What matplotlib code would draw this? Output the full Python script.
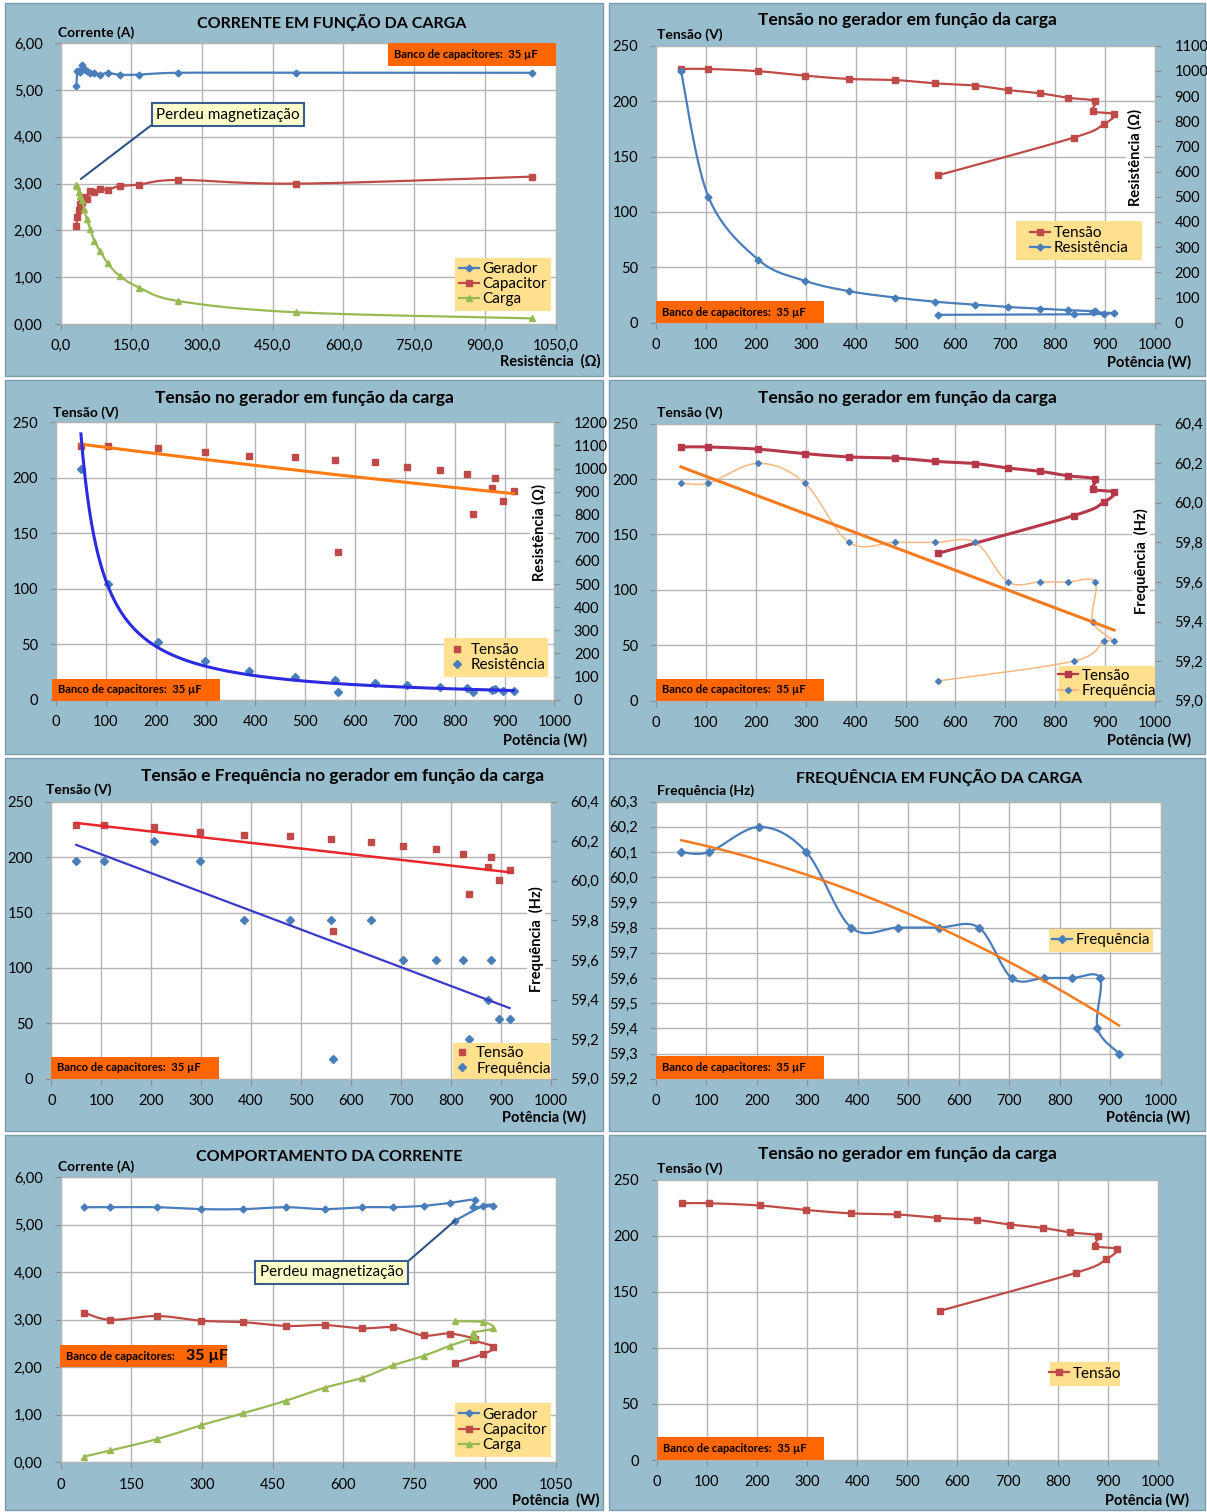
import numpy as np
import matplotlib
matplotlib.use('Agg')
import matplotlib.pyplot as plt
from matplotlib.lines import Line2D
from matplotlib.patches import Rectangle
from matplotlib.ticker import FuncFormatter

plt.rcParams['font.family'] = ['Lato', 'DejaVu Sans']

#%%
# dados lidos dos gráficos (ordem das medições)
potencia = [50, 105, 205, 298, 387, 479, 560, 640, 705, 770, 825, 880, 875, 918, 897, 837, 565]
tensao = [229, 229, 227, 223, 220, 219, 216, 214, 210, 207, 203, 200, 191, 188, 179, 167, 133]
resistencia = [1000, 500, 250, 166.7, 125, 100, 83.3, 71.4, 62.5, 55.6, 50, 45.5, 41.7, 38.5, 35.7, 33.3, 31.3]
frequencia = [60.1, 60.1, 60.2, 60.1, 59.8, 59.8, 59.8, 59.8, 59.6, 59.6, 59.6, 59.6, 59.4, 59.3, 59.3, 59.2, 59.1]
# correntes (só as 16 primeiras medições)
i_gerador = [5.37, 5.37, 5.37, 5.33, 5.33, 5.37, 5.33, 5.37, 5.37, 5.40, 5.46, 5.53, 5.38, 5.40, 5.40, 5.09]
i_capacitor = [3.15, 3.00, 3.08, 2.98, 2.95, 2.87, 2.89, 2.82, 2.84, 2.67, 2.71, 2.60, 2.57, 2.43, 2.28, 2.10]
i_carga = [0.12, 0.25, 0.49, 0.78, 1.03, 1.30, 1.57, 1.78, 2.04, 2.24, 2.45, 2.64, 2.73, 2.82, 2.95, 2.97]
n_freq6 = 14  # o gráfico de frequência só mostra as 14 primeiras

P = np.array(potencia, dtype=float)
V = np.array(tensao, dtype=float)
R = np.array(resistencia, dtype=float)
F = np.array(frequencia, dtype=float)

#%%
# cores
FUNDO = '#98BDCD'
GRADE = '#B4B4B4'
AZUL = '#4A7EBB'
VERMELHO = '#BE4B48'
VERDE = '#98B954'
AMARELO = '#FFE08F'
LARANJA = '#F47B20'

W, H = 1207, 1512
fig = plt.figure(figsize=(W / 100, H / 100), dpi=100)


def caixa(x0, y0, x1, y1):
    return [x0 / W, 1 - y1 / H, (x1 - x0) / W, (y1 - y0) / H]


def retangulo(x0, y0, x1, y1, cor, z, borda='none'):
    fig.patches.append(Rectangle((x0 / W, 1 - y1 / H), (x1 - x0) / W, (y1 - y0) / H,
                                 transform=fig.transFigure, fc=cor, ec=borda, lw=1, zorder=z))


def virgula(casas):
    return FuncFormatter(lambda v, pos: ('%.*f' % (casas, v)).replace('.', ','))


def eixo(area, xmax, dx, ylim, dy, cx=0, cy=0):
    ax = fig.add_axes(caixa(*area))
    ax.set_xlim(0, xmax)
    ax.set_ylim(*ylim)
    ax.set_xticks(np.arange(0, xmax + dx / 2, dx))
    ax.set_yticks(np.round(np.arange(ylim[0], ylim[1] + dy / 2, dy), 3))
    ax.xaxis.set_major_formatter(virgula(cx))
    ax.yaxis.set_major_formatter(virgula(cy))
    ax.grid(True, color=GRADE, lw=1)
    ax.set_axisbelow(True)
    for s in ax.spines.values():
        s.set_color(GRADE)
    ax.tick_params(length=4, color='#8C8C8C', labelsize=10.5)
    ax.tick_params(axis='x', pad=7)
    ax.tick_params(axis='y', pad=9)
    return ax


def eixo2(ax, ylim, dy, cy=0):
    ax2 = ax.twinx()
    ax2.set_ylim(*ylim)
    ax2.set_yticks(np.round(np.arange(ylim[0], ylim[1] + dy / 2, dy), 3))
    ax2.yaxis.set_major_formatter(virgula(cy))
    for s in ax2.spines.values():
        s.set_visible(False)
    ax2.tick_params(axis='y', length=4, color='#8C8C8C', labelsize=10.5, pad=10)
    return ax2


def suave(ax, x, y, n=24):
    # linha suavizada como no Excel (Bezier com vizinhos), feita em pixels
    p = ax.transData.transform(np.column_stack([x, y]))
    p = np.vstack([p[0], p, p[-1]])
    t = np.linspace(0, 1, n)[:, None]
    seg = []
    for i in range(1, len(p) - 2):
        p0, p1, p2, p3 = p[i - 1], p[i], p[i + 1], p[i + 2]
        c1 = p1 + (p2 - p0) / 6
        c2 = p2 - (p3 - p1) / 6
        seg.append((1 - t) ** 3 * p1 + 3 * (1 - t) ** 2 * t * c1 + 3 * (1 - t) * t ** 2 * c2 + t ** 3 * p2)
    q = ax.transData.inverted().transform(np.vstack(seg))
    return q[:, 0], q[:, 1]


def serie(ax, x, y, cor, mk, ms, lw=1.6, cor_mk=None):
    xs, ys = suave(ax, x, y)
    ax.plot(xs, ys, color=cor, lw=lw)
    ax.plot(x, y, ls='none', marker=mk, ms=ms, color=cor_mk or cor)


def textos(titulo, tpos, ylab, ypos, xlab, xpos, ft=12.5):
    fig.text(tpos[0] / W, 1 - tpos[1] / H, titulo, ha='center', va='center', fontsize=ft, fontweight='bold')
    fig.text(ypos[0] / W, 1 - ypos[1] / H, ylab, ha='left', va='center', fontsize=10, fontweight='bold')
    fig.text(xpos[0] / W, 1 - xpos[1] / H, xlab, ha='right', va='center', fontsize=10.5, fontweight='bold')


def rotulo_dir(x, y, txt):
    fig.text(x / W, 1 - y / H, txt, rotation=90, ha='center', va='center', fontsize=10.5, fontweight='bold',
             bbox=dict(fc='white', ec='none', pad=1), zorder=3)


def banco(x0, y0, x1, y1, grande=False):
    retangulo(x0, y0, x1, y1, '#FF6600', 2)
    yc = 1 - (y0 + y1) / 2 / H
    if grande:
        fig.text((x0 + 6) / W, yc, 'Banco de capacitores:', fontsize=8, fontweight='bold', va='center', zorder=3)
        fig.text((x0 + 126) / W, yc, '35 µF', fontsize=11.5, fontweight='bold', va='center', zorder=3)
    else:
        fig.text((x0 + 6) / W, yc, 'Banco de capacitores:  35 µF', fontsize=8, fontweight='bold', va='center', zorder=3)


def legenda(x0, y0, x1, y1, itens):
    retangulo(x0, y0, x1, y1, AMARELO, 2)
    fig.legend([h for h, _ in itens], [l for _, l in itens], loc='center',
               bbox_to_anchor=((x0 + x1) / 2 / W, 1 - (y0 + y1) / 2 / H), frameon=False, fontsize=11,
               handlelength=1.3, handletextpad=0.25, labelspacing=0.08, borderpad=0, borderaxespad=0)


def h(cor, mk, ms, ls='-', cor_mk=None):
    return Line2D([], [], color=cor, marker=mk, ms=ms, ls=ls, lw=1.6, mfc=cor_mk or cor, mec=cor_mk or cor)


def callout(ax, xy, centro, rel):
    ax.annotate('Perdeu magnetização', xy=xy, xytext=(centro[0], H - centro[1]), textcoords='figure pixels',
                ha='center', va='center', fontsize=11, annotation_clip=False,
                bbox=dict(boxstyle='square,pad=0.3', fc='#FFFFCC', ec='#3B5C8C', lw=1.5),
                arrowprops=dict(arrowstyle='-', color='#2E5486', lw=1.5, relpos=rel, shrinkA=0, shrinkB=0))


# fundos dos painéis
for x0, x1 in [(5, 603), (609, 1205)]:
    for y0, y1 in [(3, 376), (380, 754), (758, 1131), (1135, 1510)]:
        retangulo(x0, y0, x1, y1, FUNDO, -5, borda='#7C9CAC')

#%%
# 1 - corrente x resistência
ax = eixo((60.6, 43.3, 555.6, 324), 1050, 150, (0, 6), 1, cx=1, cy=2)
serie(ax, R[:16], i_gerador, AZUL, 'D', 3.5)
serie(ax, R[:16], i_capacitor, VERMELHO, 's', 5)
serie(ax, R[:16], i_carga, VERDE, '^', 5)
callout(ax, (43, 3.1), (228, 114.5), (0, 0))
textos('CORRENTE EM FUNÇÃO DA CARGA', (332, 22), 'Corrente (A)', (58, 33), 'Resistência  (Ω)', (601, 361), ft=11.5)
banco(388.5, 43.3, 555.6, 65.7)
legenda(455, 257.7, 550.5, 310.7, [(h(AZUL, 'D', 3.5), 'Gerador'), (h(VERMELHO, 's', 4.5), 'Capacitor'),
                                    (h(VERDE, '^', 4.5), 'Carga')])

# 2 - tensão e resistência x potência
ax = eixo((656, 45.7, 1155, 322.7), 1000, 100, (0, 250), 50)
ax2 = eixo2(ax, (0, 1100), 100)
serie(ax, P, V, VERMELHO, 's', 5)
serie(ax2, P, R, AZUL, 'D', 3.5)
textos('Tensão no gerador em função da carga', (907, 20), 'Tensão (V)', (657, 35), 'Potência (W)', (1191, 362))
rotulo_dir(1135, 157, 'Resistência (Ω)')
banco(656, 301, 824, 323)
legenda(1016, 221, 1142, 260, [(h(VERMELHO, 's', 4.5), 'Tensão'), (h(AZUL, 'D', 3.5), 'Resistência')])

# 3 - dispersão com linhas de tendência (potência)
ax = eixo((56, 422.3, 554.4, 699.7), 1000, 100, (0, 250), 50)
ax2 = eixo2(ax, (0, 1200), 100)
ax.plot(P, V, ls='none', marker='s', ms=4.5, color=VERMELHO)
ax2.plot(P, R, ls='none', marker='D', ms=4.5, color=AZUL)
xs = np.linspace(P.min(), P.max(), 200)
k, c = np.polyfit(P, np.log(V), 1)
ax.plot(xs, np.exp(c + k * xs), color='#FF7A10', lw=2.2)
b, a = np.polyfit(np.log(P), np.log(R), 1)
ax2.plot(xs, np.exp(a) * xs ** b, color='#2B2BE0', lw=2.2)
textos('Tensão no gerador em função da carga', (304, 398), 'Tensão (V)', (53, 413), 'Potência (W)', (587, 740))
rotulo_dir(539, 533, 'Resistência (Ω)')
banco(52, 679, 220, 700.7)
legenda(444.4, 638, 548, 677, [(h(VERMELHO, 's', 4.5, ls='none'), 'Tensão'), (h(AZUL, 'D', 4.5, ls='none'), 'Resistência')])

# 4 - tensão e frequência x potência
ax = eixo((656, 423.7, 1155, 700.7), 1000, 100, (0, 250), 50)
ax2 = eixo2(ax, (59.0, 60.4), 0.2, cy=1)
serie(ax, P, V, '#B5394A', 's', 5, lw=2.2)
serie(ax2, P, F, '#F5B880', 'D', 3, lw=1.1, cor_mk=AZUL)
k, c = np.polyfit(P, F, 1)
ax2.plot(xs, k * xs + c, color=LARANJA, lw=2.2)
textos('Tensão no gerador em função da carga', (907, 398), 'Tensão (V)', (657, 413), 'Potência (W)', (1191, 740))
rotulo_dir(1141, 561, 'Frequência  (Hz)')
banco(656, 679, 824, 701)
legenda(1058.7, 666, 1155, 700.7, [(h('#B5394A', 's', 4.5), 'Tensão'), (h('#F5B880', 'D', 3, cor_mk=AZUL), 'Frequência')])

# 5 - dispersão tensão e frequência
ax = eixo((51.3, 801.7, 550.5, 1078.7), 1000, 100, (0, 250), 50)
ax2 = eixo2(ax, (59.0, 60.4), 0.2, cy=1)
ax.plot(P, V, ls='none', marker='s', ms=4.5, color=VERMELHO)
ax2.plot(P, F, ls='none', marker='D', ms=4.5, color=AZUL)
k, c = np.polyfit(P, V, 1)
ax.plot(xs, k * xs + c, color='#E8262C', lw=1.8)
k, c = np.polyfit(P, F, 1)
ax2.plot(xs, k * xs + c, color='#3A3AC8', lw=1.6)
textos('Tensão e Frequência no gerador em função da carga', (343, 776.5), 'Tensão (V)', (46, 790), 'Potência (W)', (586, 1117))
rotulo_dir(536, 939, 'Frequência  (Hz)')
banco(51.3, 1057, 219, 1078.7)
legenda(453.3, 1043.3, 549.8, 1078.7, [(h(VERMELHO, 's', 4.5, ls='none'), 'Tensão'), (h(AZUL, 'D', 4.5, ls='none'), 'Frequência')])

# 6 - frequência x potência
ax = eixo((656, 801.7, 1160.5, 1078.7), 1000, 100, (59.2, 60.3), 0.1, cy=1)
serie(ax, P[:n_freq6], F[:n_freq6], AZUL, 'D', 4)
coef = np.polyfit(P[:n_freq6], F[:n_freq6], 2)
xs6 = np.linspace(P[:n_freq6].min(), P[:n_freq6].max(), 200)
ax.plot(xs6, np.polyval(coef, xs6), color=LARANJA, lw=1.8)
textos('FREQUÊNCIA EM FUNÇÃO DA CARGA', (939, 777.5), 'Frequência (Hz)', (657, 791), 'Potência (W)', (1190, 1117), ft=11.5)
banco(656, 1056, 824, 1078.7)
legenda(1049, 928.7, 1153, 952, [(h(AZUL, 'D', 4), 'Frequência')])

# 7 - correntes x potência
ax = eixo((60.6, 1177.3, 555.6, 1462.3), 1050, 150, (0, 6), 1, cy=2)
serie(ax, P[:16], i_gerador, AZUL, 'D', 3.5)
serie(ax, P[:16], i_capacitor, VERMELHO, 's', 5)
serie(ax, P[:16], i_carga, VERDE, '^', 5)
callout(ax, (P[15], i_gerador[15]), (331.6, 1272.3), (1, 1))
textos('COMPORTAMENTO DA CORRENTE', (329, 1157), 'Corrente (A)', (58, 1167), 'Potência  (W)', (599, 1500), ft=11.5)
banco(60, 1344.7, 227, 1367.3, grande=True)
legenda(455, 1403.3, 550.5, 1456.7, [(h(AZUL, 'D', 3.5), 'Gerador'), (h(VERMELHO, 's', 4.5), 'Capacitor'),
                                      (h(VERDE, '^', 4.5), 'Carga')])

# 8 - tensão x potência
ax = eixo((656.8, 1179.7, 1157.8, 1460), 1000, 100, (0, 250), 50)
serie(ax, P, V, VERMELHO, 's', 5)
textos('Tensão no gerador em função da carga', (907, 1154), 'Tensão (V)', (657, 1169), 'Potência (W)', (1189, 1500))
banco(657, 1437, 824, 1460)
legenda(1050, 1361.7, 1120, 1385.7, [(h(VERMELHO, 's', 4.5), 'Tensão')])

plt.savefig('out.png', dpi=100)
